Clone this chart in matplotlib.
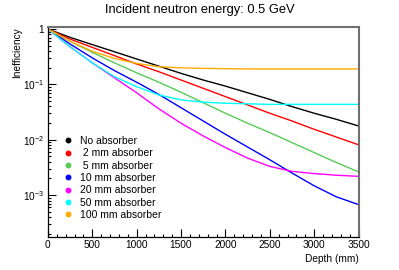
import numpy as np
import matplotlib
matplotlib.use("Agg")
import matplotlib.pyplot as plt
from matplotlib.ticker import FixedLocator, FuncFormatter, LogLocator, MultipleLocator, NullFormatter

plt.rcParams['font.family'] = ['Liberation Sans', 'DejaVu Sans']
plt.rcParams['mathtext.fontset'] = 'custom'
plt.rcParams['mathtext.rm'] = 'Liberation Sans'
plt.rcParams['mathtext.it'] = 'Liberation Sans'

# Depth (mm)
depth = [0, 250, 500, 750, 1000, 1250, 1500, 1750, 2000, 2250, 2500, 2750, 3000, 3250, 3500]

# log10(inefficiency)
log_no_abs = [0, -0.15, -0.28, -0.41, -0.54, -0.67, -0.80, -0.92, -1.03, -1.15, -1.27, -1.40, -1.52, -1.63, -1.75]
log_2mm = [0, -0.18, -0.33, -0.48, -0.63, -0.77, -0.92, -1.07, -1.22, -1.37, -1.52, -1.66, -1.81, -1.95, -2.09]
log_5mm = [0, -0.22, -0.42, -0.61, -0.79, -0.96, -1.14, -1.33, -1.52, -1.70, -1.87, -2.05, -2.23, -2.41, -2.58]
log_10mm = [0, -0.27, -0.52, -0.75, -0.96, -1.18, -1.42, -1.66, -1.90, -2.13, -2.36, -2.60, -2.83, -3.03, -3.17]
log_20mm = [0, -0.32, -0.61, -0.88, -1.15, -1.44, -1.70, -1.93, -2.14, -2.33, -2.48, -2.57, -2.61, -2.64, -2.66]
log_50mm = [0, -0.32, -0.61, -0.86, -1.04, -1.19, -1.28, -1.32, -1.34, -1.35, -1.36, -1.36, -1.36, -1.36, -1.36]
log_100mm = [0, -0.22, -0.40, -0.53, -0.62, -0.68, -0.70, -0.71, -0.715, -0.72, -0.72, -0.72, -0.72, -0.72, -0.72]

labels = ["No absorber", " 2 mm absorber", " 5 mm absorber", "10 mm absorber",
          "20 mm absorber", "50 mm absorber", "100 mm absorber"]
colors = ["#000000", "#ff0000", "#55cc55", "#0000ff", "#ff00ff", "#00ffff", "#ffaa00"]
series = [log_no_abs, log_2mm, log_5mm, log_10mm, log_20mm, log_50mm, log_100mm]

fig = plt.figure(figsize=(3.99, 2.70), dpi=100)
ax = fig.add_axes([0.120, 0.123, 0.7785, 0.777])

x = np.array(depth)
for s, c in zip(series, colors):
    ax.plot(x, 10 ** np.array(s), color=c, lw=1.0)

ax.set_yscale('log')
ax.set_xlim(0, 3500)
ax.set_ylim(1.77e-4, 1.09)

ax.xaxis.set_major_locator(MultipleLocator(500))
ax.xaxis.set_minor_locator(MultipleLocator(100))
ax.yaxis.set_major_locator(FixedLocator([1e-3, 1e-2, 1e-1, 1]))
ax.yaxis.set_minor_locator(LogLocator(base=10, subs=np.arange(2, 10)))
ax.yaxis.set_minor_formatter(NullFormatter())

def yfmt(v, pos):
    if abs(v - 1) < 1e-9:
        return "1"
    e = int(round(np.log10(v)))
    return r"$10^{%d}$" % e
ax.yaxis.set_major_formatter(FuncFormatter(yfmt))

ax.tick_params(axis='both', which='both', direction='in', top=False, right=False,
               labelsize=7.3, color='black')
ax.tick_params(axis='both', which='major', length=5.5, width=0.8)
ax.tick_params(axis='both', which='minor', length=2.5, width=0.8)
ax.tick_params(axis='x', pad=2)
ax.tick_params(axis='y', pad=3)

for side in ['left', 'bottom']:
    ax.spines[side].set_color('black')
    ax.spines[side].set_linewidth(0.9)
for side in ['top', 'right']:
    ax.spines[side].set_color('#707070')
    ax.spines[side].set_linewidth(1.5)

ax.set_ylabel("Inefficiency", fontsize=7.3, loc='top', labelpad=0)
ax.yaxis.set_label_coords(-0.083, 1.0)
ax.set_xlabel("Depth (mm)", fontsize=7.3, loc='right', labelpad=3)
fig.text(0.5, 0.962, "Incident neutron energy: 0.5 GeV", ha='center', va='center', fontsize=9.3)

handles = [plt.Line2D([], [], ls='none', marker='o', ms=3.2, color=c, mec=c) for c in colors]
ax.legend(handles, labels, loc='upper left', bbox_to_anchor=(0.035, 0.505), frameon=False,
          fontsize=7.5, handlelength=0.8, handletextpad=0.75, labelspacing=0.22, borderpad=0)

fig.savefig("out.png", dpi=100)
